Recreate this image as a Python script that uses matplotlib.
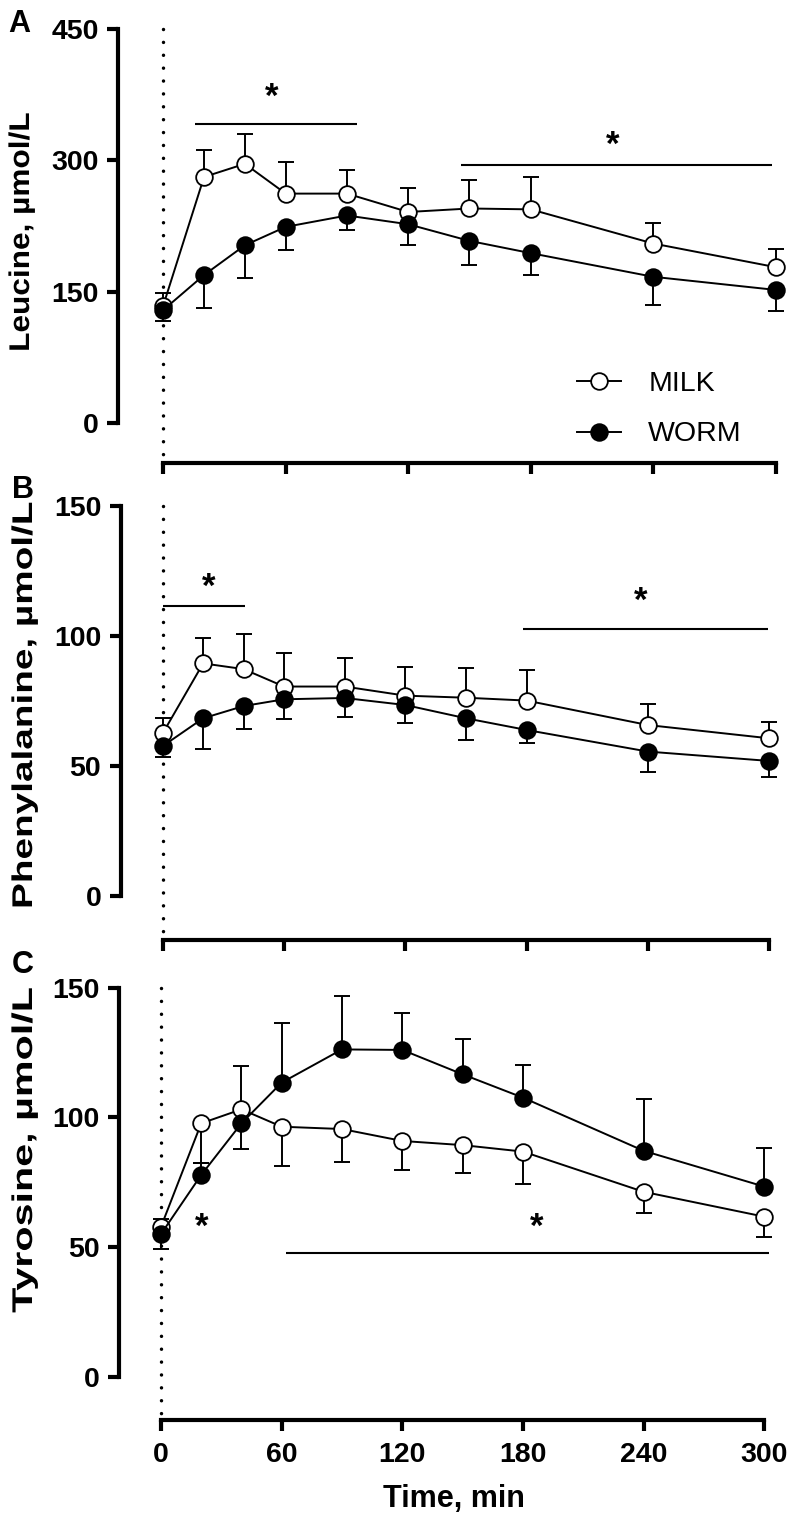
import numpy as np
import matplotlib
matplotlib.use("Agg")
import matplotlib.pyplot as plt
from matplotlib.lines import Line2D
from matplotlib.patheffects import AbstractPathEffect
from matplotlib.transforms import Affine2D

plt.rcParams['font.family'] = ['Liberation Sans', 'DejaVu Sans']

# time points (min)
time = [0, 20, 40, 60, 90, 120, 150, 180, 240, 300]

# A: leucine (umol/L)
leu_milk = [134, 281, 296, 262, 262, 241, 245, 244, 205, 178]
leu_milk_err = [15, 31, 34, 36, 27, 27, 32, 37, 23, 21]
leu_worm = [129, 169, 203, 224, 237, 227, 208, 194, 167, 152]
leu_worm_err = [12, 38, 37, 26, 17, 24, 28, 25, 32, 24]

# B: phenylalanine
phe_milk = [62.5, 89.4, 87.2, 80.5, 80.5, 77.0, 76.2, 75.1, 65.7, 60.6]
phe_milk_err = [5.8, 9.9, 13.4, 12.8, 10.8, 10.9, 11.3, 11.8, 8.0, 6.4]
phe_worm = [57.6, 68.3, 73.0, 75.6, 76.1, 73.4, 68.3, 63.8, 55.5, 51.9]
phe_worm_err = [4.3, 11.7, 9.0, 7.7, 7.3, 7.0, 8.3, 5.1, 7.7, 6.2]

# C: tyrosine
tyr_milk = [57.8, 97.7, 103.1, 96.4, 95.5, 90.9, 89.3, 86.8, 71.3, 61.7]
tyr_milk_err = [8.7, 15.2, 15.4, 15.2, 12.7, 11.2, 10.9, 12.6, 8.1, 7.7]
tyr_worm = [55.0, 77.8, 97.7, 113.4, 126.2, 126.0, 116.6, 107.6, 87.1, 73.3]
tyr_worm_err = [5.7, 4.7, 22.3, 23.1, 20.6, 14.4, 13.5, 12.5, 19.9, 15.0]

# significance bars (start, end, level) and stars (time, level)
leu_bars = [(15.6, 94.7, 342), (145.8, 298.1, 295)]
leu_stars = [(53, 378), (220, 323)]
phe_bars = [(0, 40.7, 111.5), (178.2, 299.5, 102.6)]
phe_stars = [(22.6, 120.8), (236.5, 115.3)]
tyr_bars = [(62.2, 302.5, 47.8)]
tyr_stars = [(20.2, 59.8), (186.8, 59.8)]

xticks = [0, 60, 120, 180, 240, 300]


class Stretch(AbstractPathEffect):
    # stretch text along display y about its centre
    def __init__(self, s):
        super().__init__()
        self.s = s

    def draw_path(self, renderer, gc, tpath, affine, rgbFace=None):
        ext = tpath.transformed(affine).get_extents()
        cx = (ext.x0 + ext.x1) / 2
        cy = (ext.y0 + ext.y1) / 2
        a = affine + Affine2D().translate(-cx, -cy).scale(1, self.s).translate(cx, cy)
        renderer.draw_path(gc, tpath, a, rgbFace)


W, H = 794, 1515
fig = plt.figure(figsize=(W / 100, H / 100), dpi=100)


def add_panel(px0, px300, py0, pytop, ymax, spine_x, spine_y, right=790):
    kx = (px300 - px0) / 300
    ky = (py0 - pytop) / ymax
    top = pytop - 6
    ax = fig.add_axes([spine_x / W, 1 - spine_y / H,
                       (right - spine_x) / W, (spine_y - top) / H])
    ax.set_xlim((spine_x - px0) / kx, (right - px0) / kx)
    ax.set_ylim(-(spine_y - py0) / ky, (py0 - top) / ky)
    return ax


def draw(ax, ymax, yticks, milk, milk_err, worm, worm_err, milk_up, bars, stars):
    zeros = np.zeros(len(time))
    m_err = [zeros, milk_err] if milk_up else [milk_err, zeros]
    w_err = [worm_err, zeros] if milk_up else [zeros, worm_err]
    ax.errorbar(time, milk, yerr=m_err, fmt='none', ecolor='k', elinewidth=1.4,
                capsize=6, capthick=1.4, zorder=2)
    ax.errorbar(time, worm, yerr=w_err, fmt='none', ecolor='k', elinewidth=1.4,
                capsize=6, capthick=1.4, zorder=2)
    ax.plot(time, milk, '-o', color='k', lw=1.4, ms=12, mfc='white', mec='k',
            mew=1.3, zorder=3)
    ax.plot(time, worm, '-o', color='k', lw=1.4, ms=12, mfc='k', mec='k',
            mew=1.3, zorder=4)

    ybot = ax.get_ylim()[0]
    ax.plot([0, 0], [ymax, ybot * 0.88], color='k', lw=2.5,
            linestyle=(0, (0.01, 3.7)), dash_capstyle='round', zorder=1)

    for t0, t1, v in bars:
        ax.plot([t0, t1], [v, v], color='k', lw=1.5, solid_capstyle='butt')
    for t, v in stars:
        ax.annotate('*', xy=(t, v), xytext=(0, -0.43 * 25), textcoords='offset points',
                    ha='center', va='baseline', fontsize=25, fontweight='bold')

    for s in ['top', 'right']:
        ax.spines[s].set_visible(False)
    for s in ['left', 'bottom']:
        ax.spines[s].set_linewidth(3)
    ax.spines['left'].set_bounds(0, ymax)
    ax.spines['bottom'].set_bounds(0, 300)
    ax.set_yticks(yticks, [str(v) for v in yticks], fontsize=20.5, fontweight='bold')
    ax.set_xticks(xticks)
    ax.tick_params(direction='out', length=8, width=3, pad=6)
    ax.tick_params(axis='x', pad=8)


axA = add_panel(163.2, 775.7, 423, 29, 450, 118, 463)
draw(axA, 450, [0, 150, 300, 450], leu_milk, leu_milk_err, leu_worm, leu_worm_err,
     True, leu_bars, leu_stars)
axA.tick_params(axis='x', labelbottom=False)

axB = add_panel(162.7, 769.3, 896, 505.7, 150, 120.7, 940)
draw(axB, 150, [0, 50, 100, 150], phe_milk, phe_milk_err, phe_worm, phe_worm_err,
     True, phe_bars, phe_stars)
axB.tick_params(axis='x', labelbottom=False)

axC = add_panel(161, 764.3, 1376.7, 987.7, 150, 119, 1420)
draw(axC, 150, [0, 50, 100, 150], tyr_milk, tyr_milk_err, tyr_worm, tyr_worm_err,
     False, tyr_bars, tyr_stars)
axC.set_xticks(xticks, [str(v) for v in xticks], fontsize=20.5, fontweight='bold')

# legend (panel A)
handles = [
    Line2D([], [], color='k', lw=1.4, marker='o', ms=12, mfc='white', mec='k',
           mew=1.3, label='MILK'),
    Line2D([], [], color='k', lw=1.4, marker='o', ms=12, mfc='k', mec='k',
           mew=1.3, label='WORM'),
]
axA.legend(handles=handles, loc='upper left', bbox_to_anchor=(577 / W, 1 - 371 / H),
           bbox_transform=fig.transFigure, frameon=False, fontsize=20.5,
           borderpad=0, borderaxespad=0, handlelength=1.55, handletextpad=0.95,
           labelspacing=0.86)

# y axis titles
for x, y, txt, s in [(22, 232, 'Leucine, µmol/L', 1.11),
                     (25, 705, 'Phenylalanine, µmol/L', 1.36),
                     (25, 1150, 'Tyrosine, µmol/L', 1.45)]:
    fig.text(x / W, 1 - y / H, txt, rotation=90, ha='center', va='center',
             fontsize=20.5, fontweight='bold', path_effects=[Stretch(s)])

fig.text(454 / W, 1 - 1507 / H, 'Time, min', ha='center', va='baseline',
         fontsize=22, fontweight='bold')

# panel letters
for x, y, letter in [(8, 32, 'A'), (12, 498, 'B'), (12, 973, 'C')]:
    fig.text(x / W, 1 - y / H, letter, ha='left', va='baseline',
             fontsize=22, fontweight='bold')

fig.savefig('out.png', dpi=100)
